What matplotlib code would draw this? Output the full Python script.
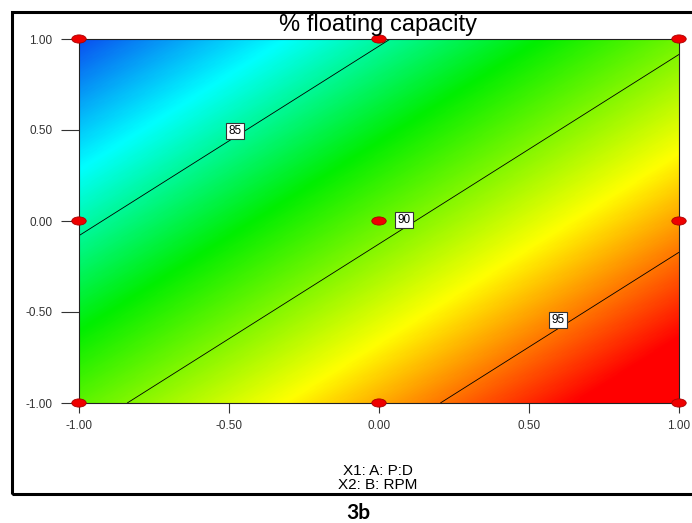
import numpy as np
import matplotlib
matplotlib.use("Agg")
from matplotlib import pyplot as plt
from matplotlib.colors import LinearSegmentedColormap
from matplotlib.patches import Ellipse, Rectangle

# fitted linear model in coded units
intercept = 89.42
coef_a = 4.79   # X1: A: P:D
coef_b = -4.60  # X2: B: RPM

# design points (3x3 factorial)
design_x1 = [-1, 0, 1, -1, 0, 1, -1, 0, 1]
design_x2 = [1, 1, 1, 0, 0, 0, -1, -1, -1]

contour_levels = [85, 90, 95]
label_pos = [(-0.48, 0.495), (0.083, 0.005), (0.597, -0.544)]

ticks = [-1.0, -0.5, 0.0, 0.5, 1.0]
tick_labels = ["-1.00", "-0.50", "0.00", "0.50", "1.00"]

# colour stops (response value -> colour)
stop_vals = [80.0, 83.3, 87.4, 92.5, 97.2, 98.8]
stop_cols = ["#0a4ff0", "#00ffff", "#00ee00", "#ffff00", "#ff0000", "#ff0000"]

plt.rcParams['font.family'] = ['Liberation Sans', 'DejaVu Sans']

fig = plt.figure(figsize=(6.92, 5.23), dpi=100)
ax = fig.add_axes([79 / 692, 1 - 403 / 523, 600 / 692, 364 / 523])

g = np.linspace(-1, 1, 400)
X1, X2 = np.meshgrid(g, g)
Z = intercept + coef_a * X1 + coef_b * X2

vmin, vmax = stop_vals[0], stop_vals[-1]
pos = [(v - vmin) / (vmax - vmin) for v in stop_vals]
cmap = LinearSegmentedColormap.from_list("de", list(zip(pos, stop_cols)))
ax.imshow(Z, extent=(-1, 1, -1, 1), origin="lower", cmap=cmap,
          vmin=vmin, vmax=vmax, aspect="auto", interpolation="bilinear")

cs = ax.contour(X1, X2, Z, levels=contour_levels, colors="black", linewidths=0.6)
texts = ax.clabel(cs, manual=label_pos, inline=False, fontsize=8.5, fmt="%d")
for t, p in zip(texts, label_pos):
    t.set_rotation(0)
    t.set_position(p)
    t.set_ha("center")
    t.set_va("center")
    t.set_bbox(dict(boxstyle="square,pad=0.2", fc="white", ec="#333333", lw=0.8))

for x, y in zip(design_x1, design_x2):
    ax.add_patch(Ellipse((x, y), 0.048, 0.045, fc="#ee0000", ec="#aa0000",
                         lw=0.6, clip_on=False, zorder=5))

ax.set_xlim(-1, 1)
ax.set_ylim(-1, 1)
ax.set_xticks(ticks)
ax.set_xticklabels(tick_labels)
ax.set_yticks(ticks)
ax.set_yticklabels(tick_labels)
ax.tick_params(axis="x", length=7, width=0.8, pad=5, labelsize=8.5, colors="#333333")
ax.tick_params(axis="y", length=13, width=0.8, pad=6, labelsize=8.5, colors="#333333")
for s in ax.spines.values():
    s.set_linewidth(0.8)
    s.set_color("#222222")

fig.text(378 / 692, 1 - 25 / 523, "% floating capacity", ha="center", va="center",
         fontsize=17)
fig.text(378 / 692, 1 - 471 / 523, "X1: A: P:D", ha="center", va="center", fontsize=11)
fig.text(378 / 692, 1 - 485 / 523, "X2: B: RPM", ha="center", va="center", fontsize=11)
fig.text(358 / 692, 1 - 513 / 523, "3b", ha="center", va="center", fontsize=15,
         fontweight="bold", family=["Lato", "DejaVu Sans"])

fig.patches.append(Rectangle((12 / 692, 1 - 494 / 523), 700 / 692, 482 / 523,
                             transform=fig.transFigure, fill=False, ec="black", lw=2.2))

plt.savefig("out.png", dpi=100)
